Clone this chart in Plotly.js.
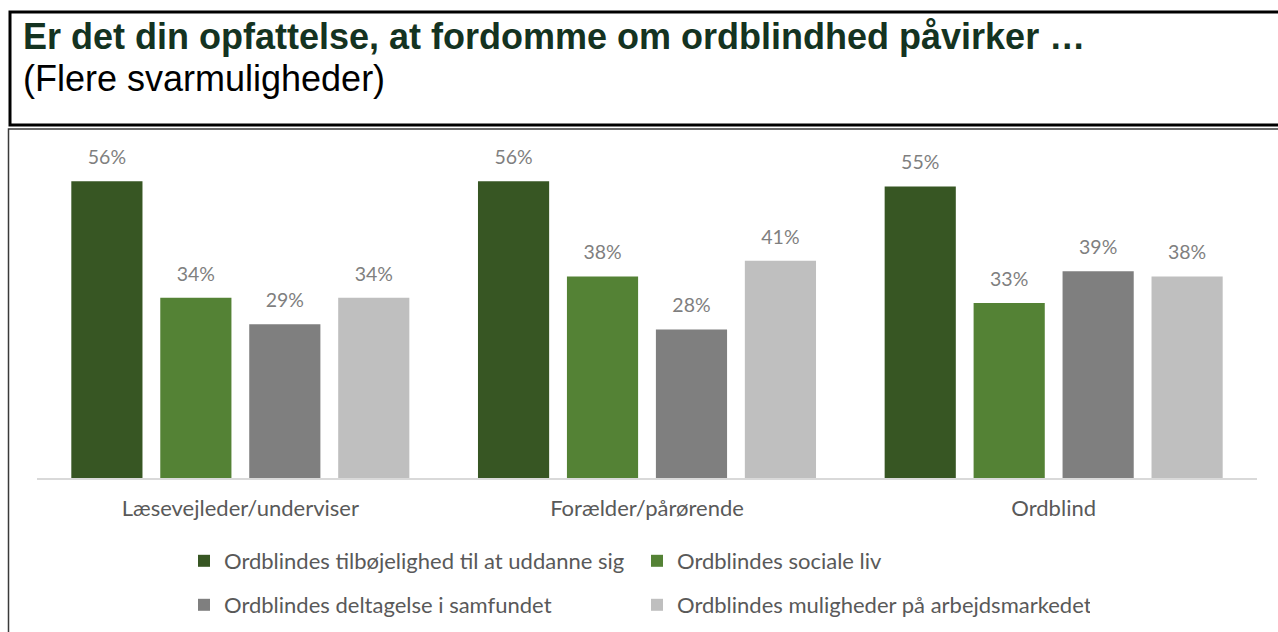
<!DOCTYPE html>
<html>
<head>
<meta charset="utf-8">
<script src="https://cdn.plot.ly/plotly-3.0.1.min.js"></script>
<style>html,body{margin:0;padding:0;background:#fff;}#chart{width:1278px;height:632px;}</style>
</head>
<body>
<div id="chart"></div>
<script>
const categories = ["Læsevejleder/underviser", "Forælder/pårørende", "Ordblind"];
const seriesNames = [
  "Ordblindes tilbøjelighed til at uddanne sig",
  "Ordblindes sociale liv",
  "Ordblindes deltagelse i samfundet",
  "Ordblindes muligheder på arbejdsmarkedet"
];
const educationValues = [56, 56, 55];
const socialValues = [34, 38, 33];
const societyValues = [29, 28, 39];
const labourValues = [34, 41, 38];
const seriesColors = ["#375623", "#548235", "#7f7f7f", "#bfbfbf"];
const titleText = "Er det din opfattelse, at fordomme om ordblindhed påvirker …";
const subtitleText = "(Flere svarmuligheder)";

const allValues = [educationValues, socialValues, societyValues, labourValues];
const W = 1278, H = 632;
const mL = 37, mR = 21, mT = 160, mB = 154;
const pw = W - mL - mR, ph = H - mT - mB;
const px = x => (x - mL) / pw;
const py = y => (H - mB - y) / ph;
const cy = y => 1 - y / H;
const labelFont = "Lato, 'Open Sans', sans-serif";

const traces = [];
allValues.forEach((vals, i) => {
  traces.push({
    type: "bar",
    x: categories,
    y: vals,
    name: seriesNames[i],
    marker: {color: seriesColors[i], line: {width: 0}},
    offsetgroup: String(i),
    hoverinfo: "skip",
    legend: i < 2 ? "legend" : "legend2"
  });
});
allValues.forEach((vals, i) => {
  traces.push({
    type: "scatter",
    mode: "markers+text",
    x: categories,
    y: vals,
    offsetgroup: String(i),
    text: vals.map(v => v + "%"),
    textposition: "top center",
    textfont: {family: labelFont, size: 19.5, color: "#7f7f7f"},
    marker: {size: 18, opacity: 0},
    showlegend: false,
    hoverinfo: "skip",
    cliponaxis: false
  });
});

const legendCommon = {
  orientation: "h", xanchor: "left", yanchor: "middle", yref: "container",
  entrywidth: 408, entrywidthmode: "pixels",
  font: {family: labelFont, size: 22, color: "#595959"},
  bgcolor: "rgba(0,0,0,0)"
};

const layout = {
  width: W, height: H,
  margin: {l: mL, r: mR, t: mT, b: mB},
  paper_bgcolor: "#ffffff",
  plot_bgcolor: "#ffffff",
  barmode: "group",
  scattermode: "group",
  bargap: 0.125,
  scattergap: 0.125,
  bargroupgap: 0.2,
  showlegend: true,
  xaxis: {
    type: "category",
    showline: true, linecolor: "#d9d9d9", linewidth: 1.5,
    showgrid: false, zeroline: false,
    ticks: "outside", ticklen: 10, tickcolor: "rgba(0,0,0,0)",
    tickfont: {family: labelFont, size: 22, color: "#595959"},
    automargin: false,
    fixedrange: true
  },
  yaxis: {
    range: [0, 60], visible: false, showgrid: false, zeroline: false, fixedrange: true
  },
  legend: Object.assign({}, legendCommon, {x: px(184), y: cy(561)}),
  legend2: Object.assign({}, legendCommon, {x: px(184), y: cy(605)}),
  annotations: [
    {text: "<b>" + titleText + "</b>", xref: "paper", yref: "paper", x: px(22), y: py(36.5),
     xanchor: "left", yanchor: "middle", showarrow: false, borderpad: 0,
     font: {family: "Liberation Sans, Arial, sans-serif", size: 36, color: "#143321"}},
    {text: subtitleText, xref: "paper", yref: "paper", x: px(22), y: py(78),
     xanchor: "left", yanchor: "middle", showarrow: false, borderpad: 0,
     font: {family: "Liberation Sans, Arial, sans-serif", size: 36, color: "#000000"}}
  ],
  shapes: [
    {type: "rect", xref: "paper", yref: "paper", x0: px(10), x1: px(1290), y0: py(125), y1: py(12),
     line: {color: "#000000", width: 3}, fillcolor: "rgba(0,0,0,0)"},
    {type: "rect", xref: "paper", yref: "paper", x0: px(8.5), x1: px(1290), y0: py(660), y1: py(129),
     line: {color: "#3a3a3a", width: 1.5}, fillcolor: "rgba(0,0,0,0)"}
  ]
};

Plotly.newPlot("chart", traces, layout, {displayModeBar: false, staticPlot: true});
</script>
</body>
</html>
